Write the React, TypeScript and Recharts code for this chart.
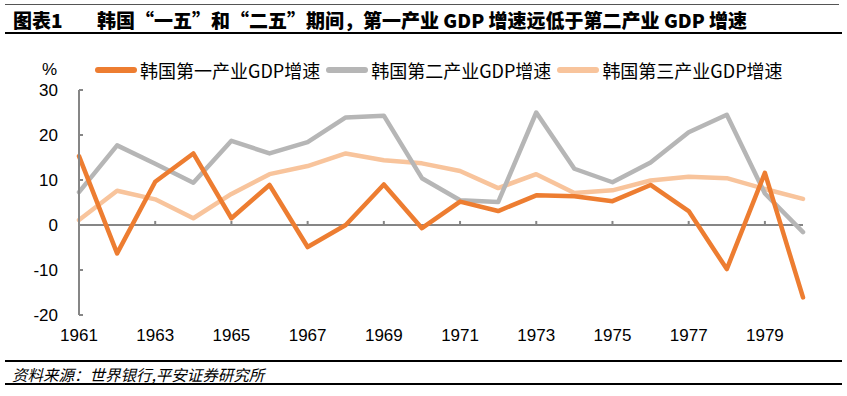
import { LineChart, Line, XAxis, YAxis, ReferenceLine } from "recharts";

const FONT = "'Liberation Sans', Arial, 'Noto Sans CJK SC', sans-serif";
const CJK_FONT = "'Noto Sans CJK SC', 'Liberation Sans', sans-serif";
const AXIS = "#868686";

const years = [
  "1961", "1962", "1963", "1964", "1965", "1966", "1967", "1968", "1969", "1970",
  "1971", "1972", "1973", "1974", "1975", "1976", "1977", "1978", "1979", "1980",
];
// 第一产业
const primary = [
  15.3, -6.3, 9.6, 15.9, 1.5, 8.9, -4.9, 0.0, 9.0, -0.7,
  5.2, 3.1, 6.6, 6.4, 5.3, 8.9, 3.1, -9.8, 11.6, -16.1,
];
// 第二产业
const secondary = [
  7.3, 17.7, 13.6, 9.4, 18.7, 15.9, 18.4, 23.9, 24.3, 10.4,
  5.5, 5.1, 25.0, 12.5, 9.5, 13.9, 20.6, 24.5, 7.0, -1.6,
];
// 第三产业
const tertiary = [
  1.1, 7.6, 5.7, 1.5, 6.9, 11.3, 13.1, 15.9, 14.4, 13.7,
  12.0, 8.2, 11.3, 7.1, 7.7, 9.9, 10.7, 10.4, 8.0, 5.8,
];
const yTicks = [-20, -10, 0, 10, 20, 30];
const xTickYears = ["1963", "1965", "1967", "1969", "1971", "1973", "1975", "1977", "1979"];

const series = [
  { key: "primary", name: "韩国第一产业GDP增速", color: "#ED7D31" },
  { key: "secondary", name: "韩国第二产业GDP增速", color: "#B6B6B6" },
  { key: "tertiary", name: "韩国第三产业GDP增速", color: "#F8C49C" },
];

const data = years.map((year, i) => ({
  year,
  primary: primary[i],
  secondary: secondary[i],
  tertiary: tertiary[i],
}));

function YTick({ x, y, payload }: { x?: number; y?: number; payload?: { value: number } }) {
  if (x == null || y == null || !payload) return null;
  return (
    <g>
      <line x1={x + 21} x2={x + 25} y1={y} y2={y} stroke={AXIS} strokeWidth={2} />
      <text x={x} y={y} dy={6} textAnchor="end" fontSize={17} fill="#000" fontFamily={FONT}>
        {payload.value}
      </text>
    </g>
  );
}

function LegendRow() {
  return (
    <div
      style={{
        position: "absolute",
        left: 95,
        top: 57,
        display: "flex",
        alignItems: "center",
        fontFamily: CJK_FONT,
        fontSize: 18,
        color: "#000",
        whiteSpace: "nowrap",
      }}
    >
      {series.map((s) => (
        <div key={s.key} style={{ display: "flex", alignItems: "center", marginRight: 6 }}>
          <svg width={42} height={10} style={{ marginRight: 3 }}>
            <line x1={3} x2={39} y1={5} y2={5} stroke={s.color} strokeWidth={6} strokeLinecap="round" />
          </svg>
          <span>{s.name}</span>
        </div>
      ))}
    </div>
  );
}

export default function App() {
  return (
    <div
      style={{
        position: "absolute",
        left: 0,
        top: 0,
        width: 847,
        height: 396,
        background: "#fff",
        fontFamily: FONT,
        overflow: "hidden",
      }}
    >
      <div style={{ position: "absolute", left: 5, right: 8, top: 4, height: 1, background: "#555" }} />
      <div
        style={{
          position: "absolute",
          left: 13,
          top: 6,
          fontFamily: CJK_FONT,
          fontWeight: 900,
          fontSize: 19,
          color: "#000",
          whiteSpace: "nowrap",
        }}
      >
        <span style={{ display: "inline-block", width: 84 }}>图表1</span>
        <span>韩国“一五”和“二五”期间，第一产业 GDP 增速远低于第二产业 GDP 增速</span>
      </div>
      <div style={{ position: "absolute", left: 5, right: 5, top: 32, height: 2, background: "#000" }} />

      <div style={{ position: "absolute", left: 42, top: 60, fontSize: 17, color: "#000" }}>%</div>
      <LegendRow />

      <div style={{ position: "absolute", left: 0, top: 0 }}>
        <LineChart
          width={847}
          height={396}
          data={data}
          margin={{ top: 90, right: 44, bottom: 51, left: 0 }}
        >
          <XAxis
            dataKey="year"
            height={30}
            interval={1}
            axisLine={false}
            tickLine={false}
            tickSize={0}
            tickMargin={14}
            tick={{ fontSize: 17, fill: "#000", fontFamily: FONT }}
          />
          <YAxis
            width={79}
            domain={[-20, 30]}
            ticks={yTicks}
            interval={0}
            axisLine={{ stroke: AXIS, strokeWidth: 2 }}
            tickLine={false}
            tickSize={0}
            tickMargin={21}
            tick={<YTick />}
          />
          <ReferenceLine y={0} stroke={AXIS} strokeWidth={2} />
          {xTickYears.map((yr) => (
            <ReferenceLine
              key={yr}
              segment={[
                { x: yr, y: 0 },
                { x: yr, y: 0.9 },
              ]}
              stroke={AXIS}
              strokeWidth={2}
            />
          ))}
          {[...series].reverse().map((s) => (
            <Line
              key={s.key}
              type="linear"
              dataKey={s.key}
              name={s.name}
              stroke={s.color}
              strokeWidth={4.5}
              strokeLinejoin="round"
              strokeLinecap="round"
              dot={false}
              activeDot={false}
              isAnimationActive={false}
            />
          ))}
        </LineChart>
      </div>

      <div style={{ position: "absolute", left: 5, right: 5, top: 360, height: 1.5, background: "#000" }} />
      <div
        style={{
          position: "absolute",
          left: 12,
          top: 363,
          fontFamily: CJK_FONT,
          fontStyle: "italic",
          fontSize: 15.5,
          color: "#000",
          whiteSpace: "nowrap",
        }}
      >
        资料来源：世界银行,平安证券研究所
      </div>
      <div style={{ position: "absolute", left: 5, right: 5, top: 383, height: 1.5, background: "#000" }} />
    </div>
  );
}
